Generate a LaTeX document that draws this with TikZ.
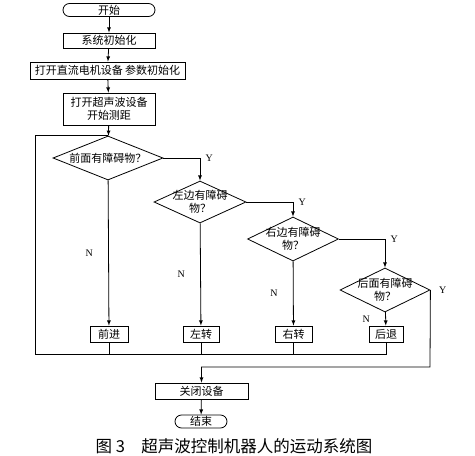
\documentclass[tikz,border=0pt]{standalone}
\usepackage{fontspec}
\setmainfont{Liberation Serif}
\newfontfamily\cjk{Noto Sans CJK SC}
\usepackage{tikz}
\usetikzlibrary{shapes,arrows,positioning,calc}

\tikzset{
    startstop/.style={draw, rounded corners=6.5pt, minimum width=#1, minimum height=13pt, inner sep=0pt, font=\cjk\fontsize{11}{13}\selectfont},
    process/.style={draw, rectangle, minimum width=#1, minimum height=16pt, inner sep=0pt, font=\cjk\fontsize{11}{13}\selectfont},
    decision/.style={draw, diamond, minimum width=#1, minimum height=44pt, inner sep=0pt},
    every label/.style={inner sep=0pt, align=center, font=\cjk\fontsize{11}{13}\selectfont},
    yn/.style={font=\fontsize{10}{12}\selectfont}
}

\begin{document}
\begin{tikzpicture}[x=1pt, y=-1pt, line width=0.8pt, arrow/.style={-latex}]
    \useasboundingbox (0,0) rectangle (475,456);

    % 初始化流程
    \node[startstop=92pt] (start) at (109,10) {开始};
    \node[process=92pt, minimum height=15pt] (init) at (109,40.5) {系统初始化};
    \node[process=155pt, minimum height=17pt] (motor) at (107.5,70.5) {打开直流电机设备 参数初始化};
    \node[process=92pt, minimum height=32pt, align=center] (sonar) at (109,109) {打开超声波设备\\开始测距};

    % 障碍物判断
    \node[decision=110pt, label={center:前面有障碍物？}] (front) at (108,158) {};
    \node[decision=92pt, minimum height=42pt, label={center:左边有障碍\\物？}] (leftq) at (200,202) {};
    \node[decision=91pt, label={center:右边有障碍\\物？}] (rightq) at (293,239) {};
    \node[decision=90pt, label={center:后面有障碍\\物？}] (backq) at (385,290) {};

    % 动作
    \node[process=38pt] (fwd) at (109,334) {前进};
    \node[process=36pt] (turnl) at (201,334) {左转};
    \node[process=37pt] (turnr) at (293.5,334) {右转};
    \node[process=34pt] (back) at (386,334) {后退};

    % 结束部分
    \node[process=93pt] (close) at (201.5,391) {关闭设备};
    \node[startstop=52pt, minimum height=13pt] (finish) at (201,421.5) {结束};
    \node[font=\cjk\fontsize{16.5}{19}\selectfont] (caption) at (234,446) {图 3\quad 超声波控制机器人的运动系统图};

    % 辅助点
    \coordinate (join) at (108,135);
    \coordinate (loopL) at (35,354);
    \coordinate (turn) at (430,367);

    % 连线
    \draw[arrow] (start) -- (init);
    \draw[arrow] (init) -- (motor);
    \draw[arrow] (motor) -- (sonar);
    \draw[arrow] (sonar) -- (front);

    \draw[arrow] (front) -- node[yn, left=12pt] {N} (fwd);
    \draw[arrow] (leftq) -- node[yn, left=12pt] {N} (turnl);
    \draw[arrow] (rightq) -- node[yn, left=12pt] {N} (turnr);
    \draw[arrow] (backq) -- node[yn, left=12pt] {N} (back);

    \draw[arrow] (front.east) -| node[yn, pos=0.5, right=2pt] {Y} (leftq.north);
    \draw[arrow] (leftq.east) -| node[yn, pos=0.5, right=2pt] {Y} (rightq.north);
    \draw[arrow] (rightq.east) -| node[yn, pos=0.5, right=2pt] {Y} (backq.north);
    \draw[arrow] (backq.east) -- node[yn, pos=0, right=5pt] {Y} (turn) -| (close.north);

    % 回到开始测距的循环
    \draw (fwd) -- (fwd |- loopL);
    \draw (turnl) -- (turnl |- loopL);
    \draw (turnr) -- (turnr |- loopL);
    \draw (back) |- (loopL) |- (join);

    \draw[arrow] (close) -- (finish);
\end{tikzpicture}
\end{document}
